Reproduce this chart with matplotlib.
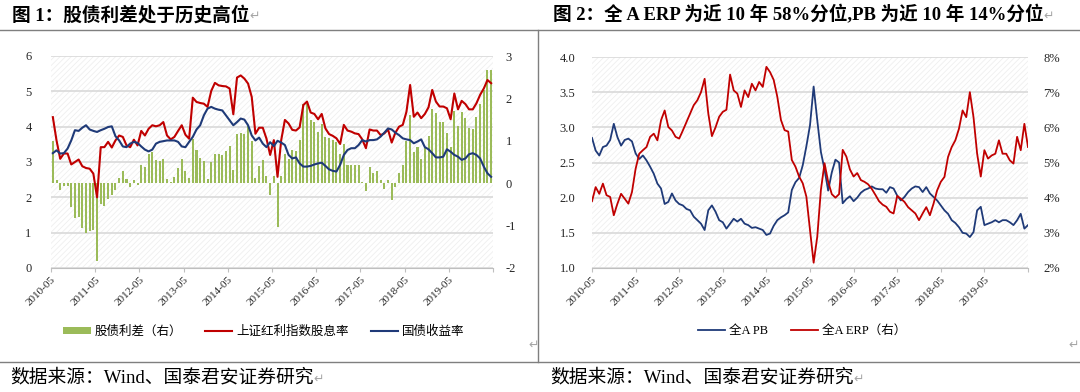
import matplotlib.pyplot as plt
import numpy as np
from matplotlib.lines import Line2D
from matplotlib.patches import Rectangle

plt.rcParams['axes.unicode_minus'] = False
plt.rcParams['hatch.linewidth'] = 0.6

SERIF = ['Liberation Serif', 'Noto Sans CJK SC']
CJK = ['Noto Sans CJK SC', 'DejaVu Sans']

RED = '#c00000'
BLUE = '#1f3a78'
GREEN = '#9bbb59'
GRID = '#d9d9d9'

# x tick labels (both panels), monthly data from 2010-05
year_labels = ['2010-05', '2011-05', '2012-05', '2013-05', '2014-05',
               '2015-05', '2016-05', '2017-05', '2018-05', '2019-05']

# Figure 1: monthly values
spread = [1.00, 0.08, -0.16, -0.07, -0.07, -0.57, -0.83, -0.80, -1.05, -1.18,
          -1.13, -1.11, -1.84, -0.49, -0.54, -0.37, -0.27, -0.17, 0.12, 0.28,
          0.09, -0.09, 0.08, -0.05, 0.43, 0.38, 0.68, 0.73, 0.55, 0.52,
          0.56, 0.10, 0.04, 0.14, 0.36, 0.56, 0.28, 0.13, 1.05, 0.78,
          0.59, 0.52, 0.09, 0.49, 0.68, 0.68, 0.67, 0.77, 0.88, 0.31,
          1.16, 1.19, 1.15, 1.34, 1.00, 0.12, 0.41, 0.55, 0.16, -0.29,
          0.17, -1.04, 0.18, 0.68, 0.57, 0.79, 0.75, 1.03, 1.87, 1.87,
          1.50, 1.45, 1.20, 1.40, 1.08, 1.06, 1.03, 0.97, 0.68, 0.93,
          0.42, 0.44, 0.43, 0.42, 0.02, -0.19, 0.38, 0.24, 0.28, 0.08,
          -0.13, 0.08, -0.39, -0.08, 0.24, 0.43, 0.99, 1.60, 0.73, 0.85,
          0.56, 0.83, 1.12, 1.75, 1.66, 1.44, 1.44, 1.18, 0.86, 1.70,
          1.34, 1.67, 1.54, 1.30, 1.28, 1.56, 1.86, 2.19, 2.66, 2.66]

dividend_yield = [4.27, 3.61, 3.09, 3.24, 3.24, 2.93, 3.00, 3.07, 2.88, 2.83,
                  2.81, 2.67, 2.00, 3.42, 3.42, 3.57, 3.41, 3.61, 3.75, 3.71,
                  3.47, 3.42, 3.63, 3.47, 3.88, 3.75, 3.94, 4.04, 4.01, 4.04,
                  4.13, 3.75, 3.64, 3.71, 3.88, 4.04, 3.77, 3.66, 4.82, 4.70,
                  4.67, 4.65, 4.56, 5.01, 5.24, 5.17, 5.15, 5.14, 5.08, 4.35,
                  5.39, 5.45, 5.36, 5.22, 4.84, 3.80, 3.97, 3.97, 3.66, 3.20,
                  3.62, 2.58, 3.62, 4.19, 4.09, 3.91, 3.89, 3.98, 4.61, 4.71,
                  4.40, 4.36, 4.21, 4.36, 3.95, 3.79, 3.74, 3.67, 3.51, 4.05,
                  3.89, 3.86, 3.81, 3.79, 3.64, 3.39, 3.92, 3.89, 3.89, 3.76,
                  3.81, 3.92, 3.55, 3.83, 4.00, 4.05, 4.42, 5.18, 4.28, 4.40,
                  4.24, 4.36, 4.55, 5.04, 4.71, 4.57, 4.57, 4.52, 4.21, 4.94,
                  4.49, 4.73, 4.64, 4.49, 4.49, 4.66, 4.90, 5.08, 5.32, 5.23]

bond_yield = [3.25, 3.33, 3.24, 3.25, 3.38, 3.61, 3.90, 3.88, 3.97, 4.04,
              3.92, 3.88, 3.85, 3.90, 3.94, 3.99, 4.01, 3.73, 3.61, 3.44,
              3.42, 3.52, 3.57, 3.54, 3.44, 3.35, 3.30, 3.35, 3.52, 3.57,
              3.59, 3.61, 3.61, 3.61, 3.57, 3.44, 3.42, 3.57, 3.71, 3.92,
              4.04, 4.32, 4.51, 4.56, 4.51, 4.48, 4.46, 4.32, 4.18, 4.04,
              4.13, 4.23, 4.20, 4.04, 3.75, 3.61, 3.69, 3.52, 3.42, 3.56,
              3.45, 3.60, 3.55, 3.48, 3.20, 3.10, 3.13, 2.96, 2.87, 2.87,
              2.89, 2.93, 2.96, 2.98, 2.89, 2.79, 2.75, 2.73, 2.92, 3.20,
              3.34, 3.39, 3.39, 3.48, 3.62, 3.58, 3.62, 3.62, 3.64, 3.72,
              3.83, 3.95, 3.92, 3.83, 3.76, 3.67, 3.64, 3.62, 3.53, 3.58,
              3.64, 3.42, 3.36, 3.25, 3.13, 3.13, 3.15, 3.36, 3.29, 3.20,
              3.15, 3.06, 3.10, 3.22, 3.25, 3.20, 3.10, 2.87, 2.68, 2.58]

# Figure 2: all-A PB and ERP (%), 2010-05 .. 2020-05
pb = [2.85, 2.67, 2.60, 2.72, 2.74, 2.82, 3.05, 2.86, 2.74, 2.82,
      2.84, 2.80, 2.63, 2.55, 2.60, 2.53, 2.44, 2.34, 2.20, 2.13,
      1.91, 1.94, 2.06, 1.96, 1.91, 1.89, 1.84, 1.82, 1.73, 1.68,
      1.63, 1.54, 1.82, 1.89, 1.80, 1.68, 1.65, 1.56, 1.63, 1.70,
      1.66, 1.70, 1.63, 1.61, 1.57, 1.58, 1.56, 1.54, 1.47, 1.49,
      1.60, 1.68, 1.72, 1.75, 1.79, 2.11, 2.22, 2.28, 2.46, 2.73,
      3.03, 3.58, 3.10, 2.65, 2.40, 2.10, 2.36, 2.54, 2.50, 1.92,
      1.98, 2.02, 1.95, 2.00, 2.07, 2.11, 2.13, 2.16, 2.13, 2.12,
      2.12, 2.07, 2.15, 2.13, 2.03, 1.96, 2.01, 2.08, 2.13, 2.16,
      2.15, 2.08, 2.15, 2.06, 2.01, 1.96, 1.89, 1.82, 1.77, 1.68,
      1.64, 1.58, 1.50, 1.49, 1.44, 1.51, 1.82, 1.87, 1.61, 1.63,
      1.65, 1.68, 1.65, 1.68, 1.68, 1.65, 1.61, 1.68, 1.77, 1.56,
      1.61]

erp = [3.90, 4.30, 4.11, 4.40, 4.07, 4.02, 3.50, 3.83, 4.11, 3.97,
       3.83, 4.16, 4.82, 5.25, 5.35, 5.44, 5.73, 5.82, 5.63, 6.20,
       6.48, 6.01, 5.91, 5.73, 5.68, 5.91, 6.15, 6.39, 6.63, 6.77,
       7.00, 7.38, 6.40, 5.75, 6.00, 6.30, 6.44, 6.50, 7.50, 7.05,
       6.96, 6.58, 7.05, 6.86, 7.24, 7.05, 7.29, 7.15, 7.72, 7.57,
       7.35, 6.87, 6.21, 5.92, 5.88, 5.07, 4.88, 4.60, 4.41, 4.03,
       3.08, 2.15, 2.89, 4.22, 4.98, 4.45, 4.10, 4.00, 4.10, 5.36,
       5.17, 4.80, 4.60, 4.70, 4.50, 4.45, 4.38, 4.25, 4.08, 3.90,
       3.80, 3.74, 3.60, 3.55, 4.05, 3.97, 3.88, 3.73, 3.64, 3.55,
       3.36, 3.55, 3.73, 3.50, 3.83, 4.21, 4.45, 4.59, 5.16, 5.44,
       5.63, 5.96, 6.48, 6.29, 7.00, 6.29, 5.25, 4.60, 5.35, 5.11,
       5.20, 5.25, 5.63, 5.25, 5.25, 5.06, 4.97, 5.73, 5.35, 6.10,
       5.44]

fig = plt.figure(figsize=(10.8, 3.92), dpi=100)
W, H = 1080, 392


def px_box(x0, y0, x1, y1):
    return [x0 / W, 1 - y1 / H, (x1 - x0) / W, (y1 - y0) / H]


def hatch_bg(ax):
    ax.add_patch(Rectangle((0, 0), 1, 1, transform=ax.transAxes, facecolor='white',
                           edgecolor='#efefef', hatch='//////', lw=0, zorder=0))


def style_x(ax, n):
    ticks = np.arange(0, n + 1, 12)
    ax.set_xlim(0, n)
    ax.set_xticks(ticks)
    ax.set_xticklabels(year_labels + [''] * (len(ticks) - len(year_labels)),
                       rotation=45, ha='right', rotation_mode='anchor',
                       family=SERIF, fontsize=8, color='#262626')
    ax.tick_params(axis='x', length=3, color='#bfbfbf', pad=2)
    for s in ['top', 'left', 'right']:
        ax.spines[s].set_visible(False)
    ax.spines['bottom'].set_color('#bfbfbf')


# ---- Figure 1 ----
ax1 = fig.add_axes(px_box(51, 56, 493, 268))
ax1r = ax1.twinx()
ax1.set_zorder(ax1r.get_zorder() + 1)
ax1.patch.set_visible(False)
hatch_bg(ax1r)

x1 = np.arange(len(spread)) + 0.5
bars = ax1r.bar(x1, spread, width=0.55, color=GREEN, zorder=2)
l_red, = ax1.plot(x1, dividend_yield, color=RED, lw=1.5)
l_blue, = ax1.plot(x1, bond_yield, color=BLUE, lw=1.5)

ax1.set_ylim(0, 6)
ax1.set_yticks(range(0, 7))
ax1r.set_ylim(-2, 3)
ax1r.set_yticks(range(-2, 4))
ax1r.hlines(ax1.get_yticks(), 0, 1, transform=ax1.get_yaxis_transform(),
            color=GRID, lw=1.2, zorder=1)
style_x(ax1, len(spread))
for s in ax1r.spines.values():
    s.set_visible(False)
ax1.tick_params(axis='y', length=0, pad=14, labelsize=9, labelcolor='#262626')
ax1r.tick_params(axis='y', length=0, pad=9, labelsize=9, labelcolor='#262626')
for lab in ax1.get_yticklabels() + ax1r.get_yticklabels():
    lab.set_family(SERIF)

fig.legend([bars, l_red, l_blue], ['股债利差（右）', '上证红利指数股息率', '国债收益率'],
           loc='center', bbox_to_anchor=(264 / W, 1 - 331 / H), ncol=3, frameon=False,
           prop={'family': CJK, 'size': 9}, handlelength=2.2, handleheight=0.5,
           handletextpad=0.3, columnspacing=1.8)

# ---- Figure 2 ----
ax2 = fig.add_axes(px_box(592, 57, 1028, 268))
ax2r = ax2.twinx()
hatch_bg(ax2)
x2 = np.arange(len(pb))
p_blue, = ax2.plot(x2, pb, color=BLUE, lw=1.3, zorder=3)
p_red, = ax2r.plot(x2, erp, color=RED, lw=1.3)
ax2.set_ylim(1.0, 4.0)
ax2.set_yticks(np.arange(1.0, 4.01, 0.5))
ax2.set_yticklabels([f'{v:.1f}' for v in np.arange(1.0, 4.01, 0.5)])
ax2r.set_ylim(2, 8)
ax2r.set_yticks(range(2, 9))
ax2r.set_yticklabels([f'{v}%' for v in range(2, 9)])
ax2.grid(axis='y', color=GRID, lw=1.2)
ax2.set_axisbelow(True)
style_x(ax2, len(pb) - 1)
for s in ax2r.spines.values():
    s.set_visible(False)
ax2.tick_params(axis='y', length=0, pad=12, labelsize=9, labelcolor='#262626')
ax2r.tick_params(axis='y', length=0, pad=11, labelsize=9, labelcolor='#262626')
for lab in ax2.get_yticklabels() + ax2r.get_yticklabels():
    lab.set_family(SERIF)

fig.legend([p_blue, p_red], ['全A PB', '全A ERP（右）'],
           loc='center', bbox_to_anchor=(802 / W, 1 - 331 / H), ncol=2, frameon=False,
           prop={'family': SERIF, 'size': 9}, handlelength=2.2,
           handletextpad=0.3, columnspacing=1.8)

# ---- frame lines, titles, sources ----
frame = dict(color='#7f7f7f', lw=1.0)
fig.add_artist(Line2D([0, 1], [1 - 30 / H] * 2, **frame))
fig.add_artist(Line2D([0, 1], [1 - 362 / H] * 2, **frame))
fig.add_artist(Line2D([538 / W] * 2, [1 - 30 / H, 1 - 362 / H], **frame))

mark = dict(family=['DejaVu Sans'], fontsize=9, color='#a6a6a6', va='center', ha='left')
titles = [(12, '图 1：股债利差处于历史高位'),
          (553, '图 2：全 A ERP 为近 10 年 58%分位,PB 为近 10 年 14%分位')]
for x, txt in titles:
    t = fig.text(x / W, 1 - 15 / H, txt, fontsize=13.4, fontweight='bold',
                 family=SERIF, va='center')
    ax1.annotate('↵', xy=(1, 0.45), xycoords=t, annotation_clip=False, **mark)
for x in [10, 550]:
    t = fig.text(x / W, 1 - 378 / H, '数据来源：Wind、国泰君安证券研究', fontsize=13.5,
                 family=SERIF, va='center')
    ax1.annotate('↵', xy=(1, 0.45), xycoords=t, annotation_clip=False, **mark)
fig.text(528 / W, 1 - 345 / H, '↵', **mark)
fig.text(1068 / W, 1 - 345 / H, '↵', **mark)

fig.savefig('out.png', dpi=100)
